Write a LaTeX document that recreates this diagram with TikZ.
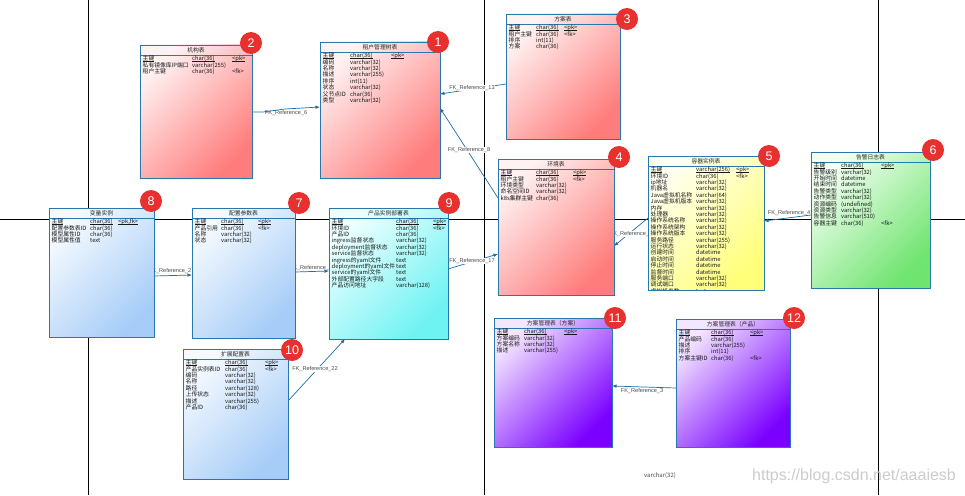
\documentclass[tikz,border=0pt]{standalone}
\usepackage{fontspec}
\newfontfamily\cjk{Noto Sans CJK SC}
\newfontfamily\lsans{Liberation Sans}
\usetikzlibrary{calc,arrows.meta}
\pgfdeclarelayer{bg}
\pgfsetlayers{bg,main}
\definecolor{tblblue}{HTML}{2878AE}
\definecolor{refblue}{HTML}{1F6EA6}
\definecolor{badgered}{HTML}{E8312F}
\definecolor{redL}{HTML}{FFF2F2}\definecolor{redD}{HTML}{FF7C7C}
\definecolor{yelL}{HTML}{FFFFF2}\definecolor{yelD}{HTML}{FFFF7A}
\definecolor{grnL}{HTML}{F2FFF2}\definecolor{grnD}{HTML}{6FE46F}
\definecolor{bluL}{HTML}{F5FAFF}\definecolor{bluD}{HTML}{A6CCF7}
\definecolor{cyaL}{HTML}{EEFFFF}\definecolor{cyaD}{HTML}{6EF2F2}
\definecolor{purL}{HTML}{F3E6FF}\definecolor{purD}{HTML}{7A00FF}
\tikzset{
  tbl/.style 2 args={draw=tblblue, line width=0.9pt, top color=#1, bottom color=#2, shading angle=45, inner sep=0pt, outer sep=0pt},
  tblline/.style={draw=tblblue, line width=0.8pt},
  ttl/.style={font=\cjk\fontsize{5.8}{6}\selectfont, inner sep=0pt, text=black!85},
  rows/.style={anchor=north west, inner sep=0pt, text=black!90, font=\cjk\fontsize{5.8}{6.4}\selectfont},
  badge/.style={circle, fill=badgered, text=white, minimum size=22pt, inner sep=0pt, font=\lsans\fontsize{12.5}{12.5}\selectfont},
  pageline/.style={draw=black, line width=0.8pt},
  ref/.style={draw=refblue, line width=0.7pt, -{Latex[length=4.5pt,width=3.6pt]}},
  reflbl/.style={font=\lsans\fontsize{5.6}{6}\selectfont, text=black!70, inner sep=0.6pt},
  reflblw/.style={reflbl, fill=white},
}
\newcommand\ertab[8]{%
  \node[tbl={#6}{#7}, anchor=north west, minimum width={(#4-#2)*1pt}, minimum height={(#5-#3)*1pt}] (#1) at (#2,#3) {};
  \draw[tblline] ([yshift=-10pt]#1.north west) -- ([yshift=-10pt]#1.north east);
  \node[ttl] (#1-title) at ([yshift=-5pt]#1.north) {#8};
}
\newlength\wa
\newlength\wb
\newcommand\errows[4]{%
  \setlength\wa{#2pt}\setlength\wb{#3pt}%
  \node[rows] (#1-rows) at ([xshift=2.5pt,yshift=-11pt]#1.north west) {\def\arraystretch{1}\begin{tabular}{@{}l@{}}#4\end{tabular}};
}
\newcommand\ulx[1]{\setbox0\hbox{#1}\rlap{\rule[-1.3pt]{\wd0}{0.5pt}}\box0}
\newcommand\fr[3]{\smash{\makebox[\wa][l]{#1}\makebox[\wb][l]{#2}#3}}
\newcommand\fk[3]{\smash{\makebox[\wa][l]{\ulx{#1}}\makebox[\wb][l]{\ulx{#2}}\ulx{#3}}}
\begin{document}
\begin{tikzpicture}[x=1pt,y=-1pt]
\useasboundingbox (0,0) rectangle (965,495);

% tables
\ertab{t1}{320}{42}{440}{178}{redL}{redD}{租户管理树表}
\errows{t1}{27.5}{41}{\fk{主键}{char(36)}{<pk>}\\\fr{编码}{varchar(32)}{}\\\fr{名称}{varchar(32)}{}\\\fr{描述}{varchar(255)}{}\\\fr{排序}{int(11)}{}\\\fr{状态}{varchar(32)}{}\\\fr{父节点ID}{char(36)}{}\\\fr{类型}{varchar(32)}{}}

\ertab{t2}{140}{45}{252}{178}{redL}{redD}{机构表}
\errows{t2}{49.5}{40}{\fk{主键}{char(36)}{<pk>}\\\fr{私有镜像库IP端口}{varchar(255)}{}\\\fr{租户主键}{char(36)}{<fk>}}

\ertab{t3}{506}{14}{620}{139}{redL}{redD}{方案表}
\errows{t3}{27.5}{28}{\fk{主键}{char(36)}{<pk>}\\\fr{租户主键}{char(36)}{<fk>}\\\fr{排序}{int(11)}{}\\\fr{方案}{char(36)}{}}

\ertab{t4}{498}{159}{614}{295}{redL}{redD}{环境表}
\errows{t4}{35.5}{37}{\fk{主键}{char(36)}{<pk>}\\\fr{租户主键}{char(36)}{<fk>}\\\fr{环境类型}{varchar(32)}{}\\\fr{命名空间ID}{varchar(32)}{}\\\fr{k8s集群主键}{char(36)}{}}

\ertab{t5}{648}{156}{764}{290}{yelL}{yelD}{容器实例表}
\begin{scope}
\clip (648,156) rectangle (764,289.5);
\errows{t5}{45.5}{40}{\fk{主键}{varchar(256)}{<pk>}\\\fr{环境ID}{char(36)}{<fk>}\\\fr{ip地址}{varchar(32)}{}\\\fr{机器名}{varchar(32)}{}\\\fr{Java虚拟机名称}{varchar(64)}{}\\\fr{Java虚拟机版本}{varchar(32)}{}\\\fr{内存}{varchar(32)}{}\\\fr{处理器}{varchar(32)}{}\\\fr{操作系统名称}{varchar(32)}{}\\\fr{操作系统架构}{varchar(32)}{}\\\fr{操作系统版本}{varchar(32)}{}\\\fr{服务路径}{varchar(255)}{}\\\fr{运行状态}{varchar(32)}{}\\\fr{创建时间}{datetime}{}\\\fr{启动时间}{datetime}{}\\\fr{停止时间}{datetime}{}\\\fr{监督时间}{datetime}{}\\\fr{服务端口}{varchar(32)}{}\\\fr{调试端口}{varchar(32)}{}\\\fr{虚拟机参数}{text}{}}
\end{scope}

\ertab{t6}{811}{152}{930}{288}{grnL}{grnD}{告警日志表}
\errows{t6}{27.5}{40}{\fk{主键}{char(36)}{<pk>}\\\fr{告警级别}{varchar(32)}{}\\\fr{开始时间}{datetime}{}\\\fr{结束时间}{datetime}{}\\\fr{告警类型}{varchar(32)}{}\\\fr{动作类型}{varchar(32)}{}\\\fr{资源编码}{(undefined)}{}\\\fr{资源类型}{varchar(32)}{}\\\fr{告警信息}{varchar(510)}{}\\\fr{容器主键}{char(36)}{<fk>}}

\ertab{t7}{192}{208}{295}{338}{bluL}{bluD}{配置参数表}
\errows{t7}{26.5}{37}{\fk{主键}{char(36)}{<pk>}\\\fr{产品引用}{char(36)}{<fk>}\\\fr{名称}{varchar(32)}{}\\\fr{状态}{varchar(32)}{}}

\ertab{t8}{49}{208}{154}{337}{bluL}{bluD}{变量实例}
\errows{t8}{38.5}{28}{\fk{主键}{char(36)}{<pk,fk>}\\\fr{配置参数表ID}{char(36)}{}\\\fr{模型属性ID}{char(36)}{}\\\fr{模型属性值}{text}{}}

\ertab{t9}{329}{208}{448}{339}{cyaL}{cyaD}{产品实例部署表}
\errows{t9}{64.5}{37}{\fk{主键}{char(36)}{<pk>}\\\fr{环境ID}{char(36)}{<fk>}\\\fr{产品ID}{char(36)}{}\\\fr{ingress监督状态}{varchar(32)}{}\\\fr{deployment监督状态}{varchar(32)}{}\\\fr{service监督状态}{varchar(32)}{}\\\fr{ingress的yaml文件}{text}{}\\\fr{deployment的yaml文件}{text}{}\\\fr{service的yaml文件}{text}{}\\\fr{外部配置路径大字段}{text}{}\\\fr{产品访问地址}{varchar(128)}{}}

\ertab{t10}{183}{349}{288}{479}{bluL}{bluD}{扩展配置表}
\errows{t10}{39.5}{40}{\fk{主键}{char(36)}{<pk>}\\\fr{产品实例表ID}{char(36)}{<fk>}\\\fr{编码}{varchar(32)}{}\\\fr{名称}{varchar(32)}{}\\\fr{路径}{varchar(128)}{}\\\fr{上传状态}{varchar(32)}{}\\\fr{描述}{varchar(255)}{}\\\fr{产品ID}{char(36)}{}}

\ertab{t11}{494}{318}{612}{447}{purL}{purD}{方案管理表（方案）}
\errows{t11}{27.5}{40}{\fk{主键}{char(36)}{<pk>}\\\fr{方案编码}{varchar(32)}{}\\\fr{方案名称}{varchar(32)}{}\\\fr{描述}{varchar(255)}{}}

\ertab{t12}{676}{319}{790}{447}{purL}{purD}{方案管理表（产品）}
\errows{t12}{32.5}{39}{\fk{主键}{char(36)}{<pk>}\\\fr{产品编码}{char(36)}{}\\\fr{描述}{varchar(255)}{}\\\fr{排序}{int(11)}{}\\\fr{方案主键ID}{char(36)}{<fk>}}

% badges
\node[badge] (b1) at (438,42) {1};
\node[badge] (b2) at (251,43) {2};
\node[badge] (b3) at (627,19) {3};
\node[badge] (b4) at (619,157) {4};
\node[badge] (b5) at (769,156) {5};
\node[badge] (b6) at (933,150) {6};
\node[badge] (b7) at (299,203) {7};
\node[badge] (b8) at (151,201) {8};
\node[badge] (b9) at (449,203) {9};
\node[badge] (b10) at (292,350) {10};
\node[badge] (b11) at (615,318) {11};
\node[badge] (b12) at (794,318) {12};

% stray text and watermark
\node[font=\cjk\fontsize{6}{7}\selectfont, text=black!70, inner sep=0pt] (stray) at (660,476) {varchar(32)};
\node[font=\lsans\fontsize{16}{18}\selectfont, text=black!20, inner sep=0pt] (wm) at (854,476) {https://blog.csdn.net/aaaiesb};

\begin{pgfonlayer}{bg}
\fill[white] (0,0) rectangle (965,495);
\draw[pageline] (0,219) -- (965,219);
\draw[pageline] (88,0) -- (88,495);
\draw[pageline] (484,0) -- (484,495);
\draw[pageline] (878,0) -- (878,495);
% references
\draw[ref] ($(t2.north east)+(0,67)$) -- ++(11,0) -- ++(22,-3) -- ($(t1.north west)+(0,65)$);
\node[reflbl] (l6) at (286,113.5) {FK\_Reference\_6};
\draw[ref] ($(t3.north west)+(0,70)$) -- ($(t1.north east)+(0,52)$);
\node[reflblw] (l13) at (472,88) {FK\_Reference\_13};
\draw[ref] ($(t4.north west)+(0,39)$) -- ($(t1.north east)+(0,66)$);
\node[reflblw] (l8) at (469,150) {FK\_Reference\_8};
\draw[ref] ($(t9.north east)+(0,61)$) -- ($(t4.north west)+(0,95)$);
\node[reflblw] (l17) at (472,261) {FK\_Reference\_17};
\draw[ref] ($(t5.north west)+(0,62)$) -- ($(t4.north east)+(0,87)$);
\node[reflblw] (l5) at (631,234) {FK\_Reference\_5};
\draw[ref] ($(t6.north west)+(0,63)$) -- ($(t5.north east)+(0,65)$);
\node[reflbl] (l4) at (789,213) {FK\_Reference\_4};
\draw[ref] ($(t8.north east)+(0,68)$) -- ($(t7.north west)+(0,67)$);
\node[reflbl] (l2) at (170,271) {FK\_Reference\_2};
\draw[ref] ($(t7.north east)+(0,64)$) -- ($(t9.north west)+(0,63)$);
\node[reflbl] (l1) at (311,268.5) {FK\_Reference\_1};
\draw[ref] ($(t10.north east)+(0,52)$) -- ($(t9.south west)+(16,0)$);
\node[reflblw] (l22) at (315,369) {FK\_Reference\_22};
\draw[ref] ($(t12.north west)+(0,69)$) -- ($(t11.north east)+(0,68)$);
\node[reflbl] (l3) at (642,391.5) {FK\_Reference\_3};
\end{pgfonlayer}
\end{tikzpicture}
\end{document}
